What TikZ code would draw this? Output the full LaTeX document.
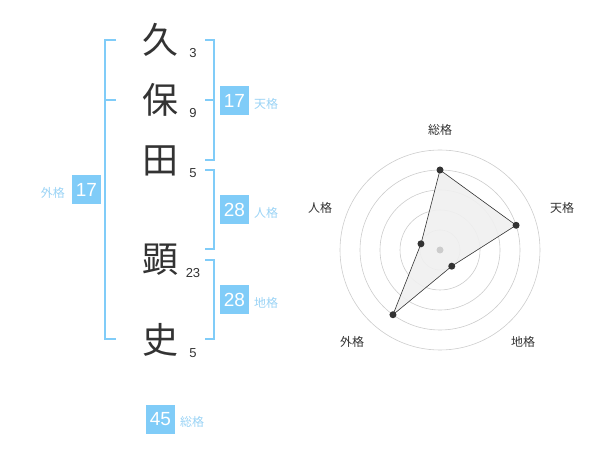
\documentclass[tikz,border=0pt]{standalone}
\usepackage{fontspec}
\setmainfont{Liberation Sans}
\newfontfamily\cjk{Noto Sans CJK JP}
\definecolor{boxblue}{HTML}{80CCF8}
\definecolor{lblblue}{HTML}{9AD3F5}
\definecolor{txt}{HTML}{333333}
\definecolor{ring}{HTML}{CCCCCC}
\begin{document}
\begin{tikzpicture}[x=1pt,y=-1pt,
  kanji/.style={font=\cjk\fontsize{36}{36}\selectfont, text=txt, inner sep=0pt},
  stroke/.style={font=\fontsize{13}{13}\selectfont, text=txt, inner sep=0pt},
  numbox/.style={fill=boxblue, text=white, font=\fontsize{19}{19}\selectfont, minimum width=29pt, minimum height=29pt, inner sep=0pt},
  lbl/.style={font=\cjk\fontsize{12}{12}\selectfont, text=lblblue, inner sep=0pt},
  brk/.style={draw=boxblue, line width=1.6pt},
  rlbl/.style={font=\cjk\fontsize{12}{12}\selectfont, text=txt, inner sep=0pt},
  dot/.style={circle, fill=txt, inner sep=0pt, minimum size=7pt}]
\useasboundingbox (0,0) rectangle (600,470);
% kanji
\node[kanji] (k1) at (160,40) {久};
\node[kanji] (k2) at (160,100) {保};
\node[kanji] (k3) at (160,161) {田};
\node[kanji] (k4) at (160,260) {顕};
\node[kanji] (k5) at (160,340) {史};
% stroke counts
\node[stroke] (s1) at (193,53) {3};
\node[stroke] (s2) at (193,113) {9};
\node[stroke] (s3) at (193,173) {5};
\node[stroke] (s4) at (193,273) {23};
\node[stroke] (s5) at (193,353) {5};
% brackets
\coordinate (la) at (116,40); \coordinate (lb) at (105,40);
\coordinate (lc) at (105,339); \coordinate (ld) at (116,339);
\draw[brk] (la) -- (lb) -- (lc) -- (ld);
\coordinate (lm1) at (105,100); \coordinate (lm2) at (116,100);
\draw[brk] (lm1) -- (lm2);
\coordinate (ta) at (205,40); \coordinate (tb) at (214,40);
\coordinate (tc) at (214,160); \coordinate (td) at (205,160);
\draw[brk] (ta) -- (tb) -- (tc) -- (td);
\coordinate (tm1) at (205,100); \coordinate (tm2) at (214,100);
\draw[brk] (tm1) -- (tm2);
\coordinate (ja) at (205,170); \coordinate (jb) at (214,170);
\coordinate (jc) at (214,249); \coordinate (jd) at (205,249);
\draw[brk] (ja) -- (jb) -- (jc) -- (jd);
\coordinate (ca) at (205,260); \coordinate (cb) at (214,260);
\coordinate (cc) at (214,339); \coordinate (cd) at (205,339);
\draw[brk] (ca) -- (cb) -- (cc) -- (cd);
% boxes
\node[numbox] (gai) at (86.5,190) {17};
\node[lbl, anchor=east] (gail) at (65,193) {外格};
\node[numbox] (ten) at (234.5,100.5) {17};
\node[lbl, anchor=west] (tenl) at (254,103.5) {天格};
\node[numbox] (jin) at (234.5,210) {28};
\node[lbl, anchor=west] (jinl) at (254,213) {人格};
\node[numbox] (chi) at (234.5,300) {28};
\node[lbl, anchor=west] (chil) at (254,303) {地格};
\node[numbox] (sou) at (160.5,419) {45};
\node[lbl, anchor=west] (soul) at (180,422) {総格};
% radar
\coordinate (O) at (440,250);
\foreach \r in {20,40,60,80,100} \draw[ring, line width=0.6pt] (O) circle[radius=\r];
\path (O) ++(-90:80) coordinate (p1);
\path (O) ++(-18:80) coordinate (p2);
\path (O) ++(54:20) coordinate (p3);
\path (O) ++(126:80) coordinate (p4);
\path (O) ++(198:20) coordinate (p5);
\draw[txt, line width=0.6pt, fill=black!6, fill opacity=0.9] (p1) -- (p2) -- (p3) -- (p4) -- (p5) -- cycle;
\fill[ring] (O) circle[radius=3.5];
\node[dot] (d1) at (p1) {};
\node[dot] (d2) at (p2) {};
\node[dot] (d3) at (p3) {};
\node[dot] (d4) at (p4) {};
\node[dot] (d5) at (p5) {};
\node[rlbl] (r1) at (440,130) {総格};
\node[rlbl] (r2) at (562,208) {天格};
\node[rlbl] (r3) at (523,342) {地格};
\node[rlbl] (r4) at (352,342) {外格};
\node[rlbl] (r5) at (320,208) {人格};
\end{tikzpicture}
\end{document}
